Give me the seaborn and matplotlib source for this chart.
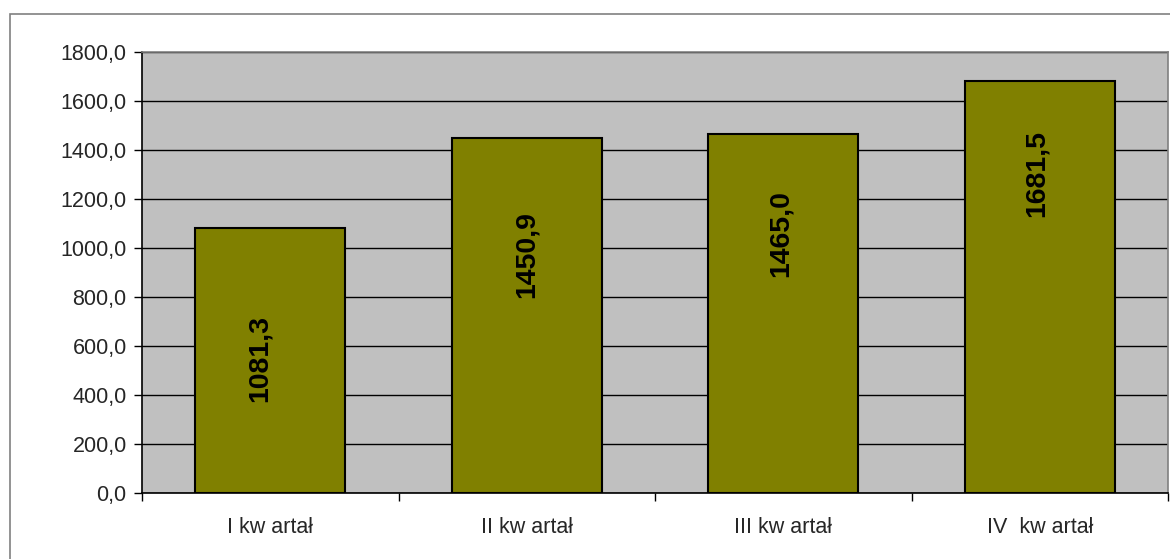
import numpy as np
import pandas as pd
import seaborn as sns
import matplotlib.pyplot as plt
from matplotlib.patches import Rectangle
from matplotlib.ticker import FuncFormatter, FixedLocator

quarters = ['I kw artał', 'II kw artał', 'III kw artał', 'IV  kw artał']
values = [1081.3, 1450.9, 1465.0, 1681.5]
y_ticks = np.arange(0, 1801, 200)
# where the value labels sit inside the bars (placed by hand in the original)
label_centres = [551, 975, 1057, 1306]
label_shift = [-0.04, 0.0, -0.01, -0.01]

df = pd.DataFrame({'kwartal': quarters, 'wartosc': values})

sns.set_style('white')
plt.rcParams['font.family'] = ['Liberation Sans', 'DejaVu Sans']

fig = plt.figure(figsize=(11.7, 5.59), dpi=100)
ax = fig.add_axes([142 / 1170, 66 / 559, 1026 / 1170, 441 / 559])

# outer chart frame, clipped by the page edge
fig.patches.append(Rectangle((10 / 1170, -0.2), 1.2, 1.2 - 14 / 559,
                             transform=fig.transFigure, fill=False,
                             edgecolor='#808080', linewidth=1.2))

sns.barplot(data=df, x='kwartal', y='wartosc', color='#808000', saturation=1,
            width=0.585, edgecolor='black', linewidth=1.5, ax=ax, zorder=3)

ax.set_facecolor('#C0C0C0')
ax.set_ylim(0, 1800)
ax.set_xlim(-0.5, len(quarters) - 0.5)
ax.set_yticks(y_ticks)
ax.yaxis.set_major_formatter(FuncFormatter(lambda v, p: f'{v:.1f}'.replace('.', ',')))
ax.yaxis.grid(True, color='black', linewidth=1)
ax.set_axisbelow(True)

# ticks at category boundaries, labels at centres
ax.xaxis.set_major_locator(FixedLocator(np.arange(-0.5, len(quarters), 1.0)))
ax.xaxis.set_minor_locator(FixedLocator(np.arange(len(quarters))))
ax.set_xticklabels([], minor=False)
ax.set_xticklabels(quarters, minor=True)
ax.tick_params(axis='x', which='major', length=6, width=1, color='black', direction='out', bottom=True)
ax.tick_params(axis='x', which='minor', length=0, pad=17, labelsize=15.5)
ax.tick_params(axis='y', length=6, width=1, color='black', direction='out', left=True,
               pad=5, labelsize=15.5)
ax.set_xlabel('')
ax.set_ylabel('')

for side in ['left', 'bottom']:
    ax.spines[side].set_color('black')
    ax.spines[side].set_linewidth(1.2)
for side in ['top', 'right']:
    ax.spines[side].set_color('#808080')
    ax.spines[side].set_linewidth(1.2)

for i, (v, yc, dx) in enumerate(zip(values, label_centres, label_shift)):
    ax.text(i + dx, yc, f'{v:.1f}'.replace('.', ','), rotation=90, ha='center', va='center',
            fontsize=20.5, fontweight='bold', color='black', zorder=4)

fig.savefig('out.png', dpi=100)
